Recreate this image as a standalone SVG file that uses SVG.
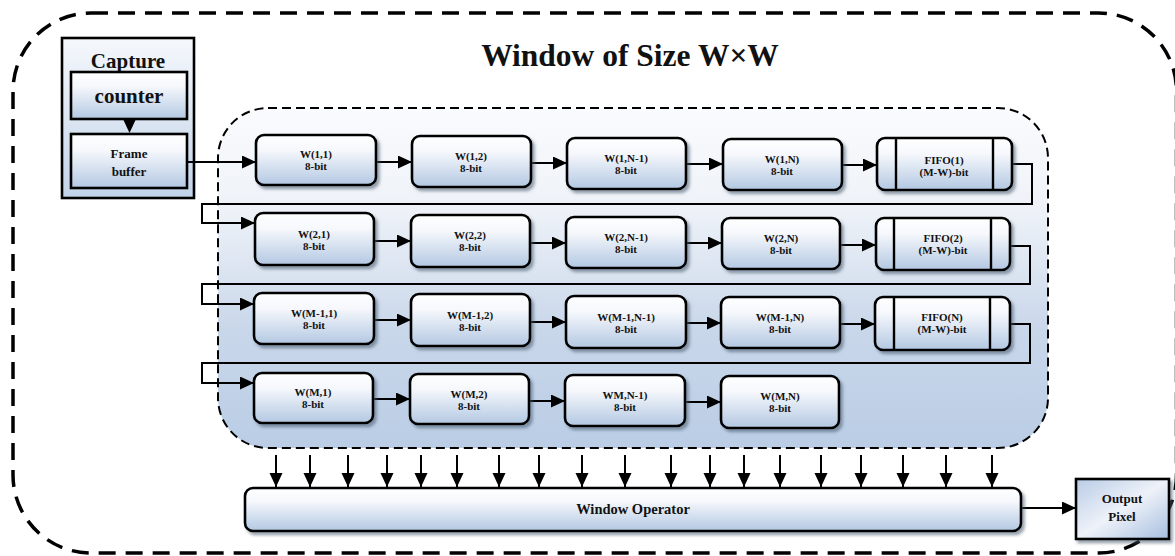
<svg xmlns="http://www.w3.org/2000/svg" width="1175" height="556" viewBox="0 0 1175 556">
<style>
text{font-family:"Liberation Serif","Times New Roman",serif;font-weight:bold;fill:#111;text-anchor:middle}
.box{fill:url(#boxGrad);stroke:#000;stroke-width:2.6;filter:url(#shadow)}
.lbl{font-size:11px}
.con{fill:none;stroke:#000;stroke-width:2}
.arr{fill:none;stroke:#000;stroke-width:2;marker-end:url(#ah)}
.fline{stroke:#000;stroke-width:2.4}
</style>
<defs>
<linearGradient id="boxGrad" x1="0" y1="0" x2="0" y2="1">
<stop offset="0" stop-color="#ffffff"/>
<stop offset="0.3" stop-color="#f6f8fc"/>
<stop offset="1" stop-color="#b3c8e2"/>
</linearGradient>
<linearGradient id="capGrad" x1="0" y1="0" x2="0" y2="1">
<stop offset="0" stop-color="#f5f8fc"/>
<stop offset="1" stop-color="#c2d3e9"/>
</linearGradient>
<linearGradient id="innerGrad" x1="0" y1="0" x2="0" y2="1">
<stop offset="0" stop-color="#fafbfd"/>
<stop offset="0.3" stop-color="#eef2f8"/>
<stop offset="0.65" stop-color="#c9d7ea"/>
<stop offset="1" stop-color="#bacde5"/>
</linearGradient>
<linearGradient id="outGrad" x1="0" y1="0" x2="1" y2="1">
<stop offset="0" stop-color="#b9cce6"/>
<stop offset="0.5" stop-color="#eef2f9"/>
<stop offset="1" stop-color="#a6bedf"/>
</linearGradient>
<filter id="shadow" x="-10%" y="-10%" width="130%" height="140%">
<feDropShadow dx="2.5" dy="3" stdDeviation="1.5" flood-color="#44546a" flood-opacity="0.55"/>
</filter>
<marker id="ah" markerUnits="userSpaceOnUse" markerWidth="15" markerHeight="14" refX="14" refY="6.5" orient="auto">
<path d="M0,0 L14,6.5 L0,13 z" fill="#000"/>
</marker>
</defs>

<rect id="outer" x="13" y="13" width="1163.5" height="540" rx="78" fill="none" stroke="#000" stroke-width="3.5" stroke-dasharray="17 10"/>

<text x="630" y="66" style="font-size:31.5px">Window of Size W×W</text>

<rect id="window-region" x="218" y="108" width="830" height="340" rx="50" fill="url(#innerGrad)" stroke="#000" stroke-width="2" stroke-dasharray="9 5"/>

<g id="capture">
<rect x="62" y="38" width="132" height="160" fill="url(#capGrad)" stroke="#000" stroke-width="2.6"/>
<text x="128" y="68" style="font-size:21px">Capture</text>
</g>
<g id="counter">
<rect x="71" y="72" width="116" height="47" fill="url(#boxGrad)" stroke="#000" stroke-width="2.6"/>
<text x="129" y="103" style="font-size:21px">counter</text>
</g>
<g id="frame-buffer">
<rect x="71" y="134" width="116" height="54" fill="url(#boxGrad)" stroke="#000" stroke-width="2.6"/>
<text x="129" y="158" style="font-size:13px">Frame</text>
<text x="129" y="176" style="font-size:13px">buffer</text>
</g>

<g id="connectors">
<path d="M123,119 L136,119 L129.5,133 z" fill="#000"/>
<path class="arr" d="M187,162 H256"/>
<path class="arr" d="M376,162 H412"/>
<path class="arr" d="M531,163 H567"/>
<path class="arr" d="M686,164 H723"/>
<path class="arr" d="M842,165 H877"/>
<path class="arr" d="M1012,164 H1032 V204 H202 V223 H255"/>

<path class="arr" d="M374,241 H411"/>
<path class="arr" d="M530,243 H566"/>
<path class="arr" d="M686,243 H722"/>
<path class="arr" d="M840,245 H876"/>
<path class="arr" d="M1010,246 H1030 V284 H202 V304 H254"/>

<path class="arr" d="M374,320 H411"/>
<path class="arr" d="M530,322 H566"/>
<path class="arr" d="M686,323 H721"/>
<path class="arr" d="M840,324 H875"/>
<path class="arr" d="M1010,324 H1030 V363 H202 V383 H254"/>

<path class="arr" d="M373,399 H410"/>
<path class="arr" d="M529,401 H565"/>
<path class="arr" d="M685,402 H721"/>

<path class="arr" d="M276,455 V487"/>
<path class="arr" d="M310,455 V487"/>
<path class="arr" d="M348,455 V487"/>
<path class="arr" d="M387,455 V487"/>
<path class="arr" d="M421,455 V487"/>
<path class="arr" d="M457,455 V487"/>
<path class="arr" d="M499,455 V487"/>
<path class="arr" d="M539,455 V487"/>
<path class="arr" d="M582,455 V487"/>
<path class="arr" d="M625,455 V487"/>
<path class="arr" d="M671,455 V487"/>
<path class="arr" d="M710,455 V487"/>
<path class="arr" d="M744,455 V487"/>
<path class="arr" d="M780,455 V487"/>
<path class="arr" d="M821,455 V487"/>
<path class="arr" d="M861,455 V487"/>
<path class="arr" d="M903,455 V487"/>
<path class="arr" d="M946,455 V487"/>
<path class="arr" d="M992,455 V487"/>

<path class="arr" d="M1021,508 H1076"/>
</g>

<g id="w11"><rect class="box" x="256" y="135" width="120" height="50" rx="8"/><text class="lbl" x="316" y="158">W(1,1)</text><text class="lbl" x="316" y="170">8-bit</text></g>
<g id="w12"><rect class="box" x="412" y="136" width="119" height="51" rx="8"/><text class="lbl" x="471" y="160">W(1,2)</text><text class="lbl" x="471" y="172">8-bit</text></g>
<g id="w1n1"><rect class="box" x="567" y="138" width="119" height="51" rx="8"/><text class="lbl" x="626" y="162">W(1,N-1)</text><text class="lbl" x="626" y="174">8-bit</text></g>
<g id="w1n"><rect class="box" x="723" y="139" width="119" height="51" rx="8"/><text class="lbl" x="782" y="163">W(1,N)</text><text class="lbl" x="782" y="175">8-bit</text></g>
<g id="fifo1"><rect class="box" x="877" y="138" width="135" height="52" rx="8"/><line class="fline" x1="896" y1="138" x2="896" y2="190"/><line class="fline" x1="993" y1="138" x2="993" y2="190"/><text class="lbl" x="944" y="164">FIFO(1)</text><text class="lbl" x="944" y="176">(M-W)-bit</text></g>

<g id="w21"><rect class="box" x="255" y="213" width="119" height="52" rx="8"/><text class="lbl" x="314" y="238">W(2,1)</text><text class="lbl" x="314" y="250">8-bit</text></g>
<g id="w22"><rect class="box" x="411" y="215" width="119" height="52" rx="8"/><text class="lbl" x="470" y="239">W(2,2)</text><text class="lbl" x="470" y="251">8-bit</text></g>
<g id="w2n1"><rect class="box" x="566" y="217" width="120" height="51" rx="8"/><text class="lbl" x="626" y="241">W(2,N-1)</text><text class="lbl" x="626" y="253">8-bit</text></g>
<g id="w2n"><rect class="box" x="722" y="218" width="118" height="51" rx="8"/><text class="lbl" x="781" y="242">W(2,N)</text><text class="lbl" x="781" y="254">8-bit</text></g>
<g id="fifo2"><rect class="box" x="876" y="218" width="134" height="52" rx="8"/><line class="fline" x1="894" y1="218" x2="894" y2="270"/><line class="fline" x1="991" y1="218" x2="991" y2="270"/><text class="lbl" x="943" y="242">FIFO(2)</text><text class="lbl" x="943" y="254">(M-W)-bit</text></g>

<g id="wm11"><rect class="box" x="254" y="293" width="120" height="51" rx="8"/><text class="lbl" x="314" y="317">W(M-1,1)</text><text class="lbl" x="314" y="329">8-bit</text></g>
<g id="wm12"><rect class="box" x="411" y="294" width="119" height="52" rx="8"/><text class="lbl" x="470" y="319">W(M-1,2)</text><text class="lbl" x="470" y="331">8-bit</text></g>
<g id="wm1n1"><rect class="box" x="566" y="296" width="120" height="52" rx="8"/><text class="lbl" x="626" y="321">W(M-1,N-1)</text><text class="lbl" x="626" y="333">8-bit</text></g>
<g id="wm1n"><rect class="box" x="721" y="297" width="119" height="51" rx="8"/><text class="lbl" x="780" y="321">W(M-1,N)</text><text class="lbl" x="780" y="333">8-bit</text></g>
<g id="fifon"><rect class="box" x="875" y="297" width="135" height="53" rx="8"/><line class="fline" x1="894" y1="297" x2="894" y2="350"/><line class="fline" x1="990" y1="297" x2="990" y2="350"/><text class="lbl" x="942" y="321">FIFO(N)</text><text class="lbl" x="942" y="333">(M-W)-bit</text></g>

<g id="wm1"><rect class="box" x="254" y="373" width="119" height="50" rx="8"/><text class="lbl" x="313" y="396">W(M,1)</text><text class="lbl" x="313" y="408">8-bit</text></g>
<g id="wm2"><rect class="box" x="410" y="374" width="119" height="50" rx="8"/><text class="lbl" x="469" y="398">W(M,2)</text><text class="lbl" x="469" y="410">8-bit</text></g>
<g id="wmn1"><rect class="box" x="565" y="375" width="120" height="51" rx="8"/><text class="lbl" x="625" y="399">WM,N-1)</text><text class="lbl" x="625" y="411">8-bit</text></g>
<g id="wmn"><rect class="box" x="721" y="376" width="118" height="52" rx="8"/><text class="lbl" x="780" y="400">W(M,N)</text><text class="lbl" x="780" y="412">8-bit</text></g>

<g id="window-operator"><rect class="box" x="245" y="488" width="776" height="43" rx="8"/><text x="633" y="514" style="font-size:14.5px">Window Operator</text></g>

<g id="output-pixel"><rect x="1076" y="479" width="93" height="60" fill="url(#outGrad)" stroke="#000" stroke-width="2.6" filter="url(#shadow)"/><text x="1122" y="503" style="font-size:13px">Output</text><text x="1122" y="521" style="font-size:13px">Pixel</text></g>
</svg>
